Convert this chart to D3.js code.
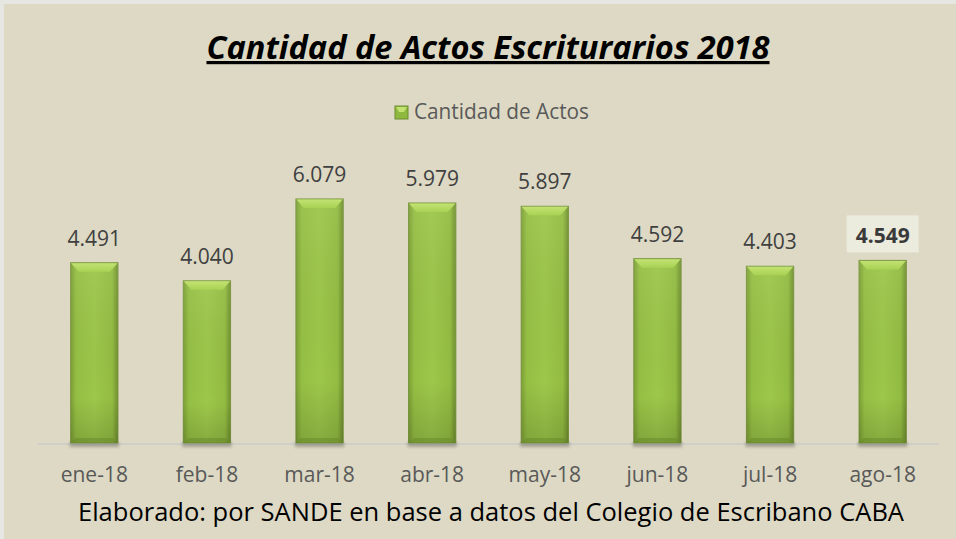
<!DOCTYPE html>
<html>
<head>
<meta charset="utf-8">
<script src="https://cdn.jsdelivr.net/npm/d3@7"></script>
<style>
  html, body { margin: 0; padding: 0; background: #ececec; }
  svg { display: block; }
</style>
</head>
<body>
<svg id="chart"></svg>
<script>
/* Data */
const months = ["ene-18", "feb-18", "mar-18", "abr-18", "may-18", "jun-18", "jul-18", "ago-18"];
const actos = [4491, 4040, 6079, 5979, 5897, 4592, 4403, 4549];
const valueLabels = ["4.491", "4.040", "6.079", "5.979", "5.897", "4.592", "4.403", "4.549"];
const highlightIndex = 7;

const rows = months.map((m, i) => ({ month: m, value: actos[i], label: valueLabels[i] }));

/* Dimensions */
const totalWidth = 956;
const totalHeight = 539;
const margin = { top: 162, right: 17, bottom: 96, left: 38 };
const chartWidth = totalWidth - margin.left - margin.right;
const chartHeight = totalHeight - margin.top - margin.bottom;

const svg = d3.select("#chart")
    .attr("width", totalWidth)
    .attr("height", totalHeight);

/* Gradients for the bevelled bars */
const defs = svg.append("defs");
const side = defs.append("linearGradient").attr("id", "barBody")
    .attr("x1", 0).attr("x2", 1).attr("y1", 0).attr("y2", 0);
side.append("stop").attr("offset", "0%").attr("stop-color", "#7c9f35");
side.append("stop").attr("offset", "12%").attr("stop-color", "#95bf44");
side.append("stop").attr("offset", "50%").attr("stop-color", "#9cc74a");
side.append("stop").attr("offset", "88%").attr("stop-color", "#93bc42");
side.append("stop").attr("offset", "100%").attr("stop-color", "#6f8f2e");

const shade = defs.append("linearGradient").attr("id", "barShade")
    .attr("x1", 0).attr("x2", 0).attr("y1", 0).attr("y2", 1);
shade.append("stop").attr("offset", "0%").attr("stop-color", "#ffffff").attr("stop-opacity", 0.06);
shade.append("stop").attr("offset", "75%").attr("stop-color", "#000000").attr("stop-opacity", 0.0);
shade.append("stop").attr("offset", "100%").attr("stop-color", "#000000").attr("stop-opacity", 0.14);

const bevel = defs.append("linearGradient").attr("id", "barBevel")
    .attr("x1", 0).attr("x2", 0).attr("y1", 0).attr("y2", 1);
bevel.append("stop").attr("offset", "0%").attr("stop-color", "#c2e272");
bevel.append("stop").attr("offset", "100%").attr("stop-color", "#a9d254");

const blur = defs.append("filter").attr("id", "soft")
    .attr("x", "-20%").attr("y", "-50%").attr("width", "140%").attr("height", "200%");
blur.append("feGaussianBlur").attr("stdDeviation", 1.5);

/* Background */
svg.append("rect")
    .attr("x", 0).attr("y", 0)
    .attr("width", totalWidth).attr("height", totalHeight)
    .attr("fill", "#e6e6e2");
svg.append("rect")
    .attr("x", 4).attr("y", 4)
    .attr("width", totalWidth - 4).attr("height", totalHeight - 4)
    .attr("fill", "#ddd9c4");

const mainGroup = svg.append("g")
    .attr("transform", `translate(${margin.left}, ${margin.top})`);

/* Scales */
const xScale = d3.scaleBand()
    .domain(months)
    .range([0, chartWidth])
    .paddingInner(0.58)
    .paddingOuter(0.29);

const yScale = d3.scaleLinear()
    .domain([0, 7000])
    .range([chartHeight, 0]);

/* Axis line */
mainGroup.append("line")
    .attr("x1", 0).attr("x2", chartWidth)
    .attr("y1", chartHeight + 1).attr("y2", chartHeight + 1)
    .attr("stroke", "#cfcfca")
    .attr("stroke-width", 2);

/* Bars */
const bw = xScale.bandwidth();
const bevelH = 9;
const bevelW = 8;

const bars = mainGroup.selectAll(".bar")
    .data(rows)
    .join("g")
      .attr("class", "bar");

bars.append("rect")
    .attr("x", d => xScale(d.month) - 1)
    .attr("y", chartHeight - 1)
    .attr("width", bw + 2)
    .attr("height", 5)
    .attr("fill", "#000")
    .attr("opacity", 0.25)
    .attr("filter", "url(#soft)");

bars.append("rect")
    .attr("x", d => xScale(d.month))
    .attr("y", d => yScale(d.value))
    .attr("width", bw)
    .attr("height", d => chartHeight - yScale(d.value))
    .attr("fill", "url(#barBody)")
    .attr("stroke", "#7b9640")
    .attr("stroke-width", 1);

bars.append("rect")
    .attr("x", d => xScale(d.month))
    .attr("y", d => yScale(d.value))
    .attr("width", bw)
    .attr("height", d => chartHeight - yScale(d.value))
    .attr("fill", "url(#barShade)");

/* top bevel */
bars.append("polygon")
    .attr("points", d => {
        const x0 = xScale(d.month), y0 = yScale(d.value);
        return [[x0 + 0.5, y0 + 0.5], [x0 + bw - 0.5, y0 + 0.5],
                [x0 + bw - bevelW, y0 + bevelH], [x0 + bevelW, y0 + bevelH]].join(" ");
    })
    .attr("fill", "url(#barBevel)");

/* bottom bevel */
bars.append("polygon")
    .attr("points", d => {
        const x0 = xScale(d.month), y1 = chartHeight;
        return [[x0 + 0.5, y1 - 0.5], [x0 + bw - 0.5, y1 - 0.5],
                [x0 + bw - 5, y1 - 5], [x0 + 5, y1 - 5]].join(" ");
    })
    .attr("fill", "#6a8a2a")
    .attr("opacity", 0.55);

/* Value labels */
const hl = rows[highlightIndex];
const hx = xScale(hl.month) + bw / 2;
const hy = yScale(hl.value) - 17;
mainGroup.append("rect")
    .attr("x", hx - 36)
    .attr("y", hy - 28)
    .attr("width", 72)
    .attr("height", 37)
    .attr("fill", "#ebebde");

mainGroup.selectAll(".value-label")
    .data(rows)
    .join("text")
      .attr("class", "value-label")
      .attr("x", d => xScale(d.month) + bw / 2)
      .attr("y", d => yScale(d.value) - 17)
      .attr("text-anchor", "middle")
      .attr("font-family", "'Open Sans', sans-serif")
      .attr("font-size", 21)
      .attr("font-weight", (d, i) => i === highlightIndex ? 700 : 400)
      .attr("fill", (d, i) => i === highlightIndex ? "#3a3a3a" : "#404040")
      .text(d => d.label);

/* X axis labels */
mainGroup.selectAll(".month-label")
    .data(rows)
    .join("text")
      .attr("class", "month-label")
      .attr("x", d => xScale(d.month) + bw / 2)
      .attr("y", chartHeight + 39)
      .attr("text-anchor", "middle")
      .attr("font-family", "'Open Sans', sans-serif")
      .attr("font-size", 21)
      .attr("fill", "#595959")
      .text(d => d.month);

/* Title */
svg.append("text")
    .attr("x", 488)
    .attr("y", 59)
    .attr("text-anchor", "middle")
    .attr("font-family", "'Open Sans', sans-serif")
    .attr("font-size", 32)
    .attr("font-weight", 700)
    .attr("font-style", "italic")
    .attr("text-decoration", "underline")
    .attr("textLength", 563)
    .attr("lengthAdjust", "spacingAndGlyphs")
    .attr("fill", "#000")
    .text("Cantidad de Actos Escriturarios 2018");

/* Legend */
const legend = svg.append("g").attr("transform", "translate(395, 106)");
legend.append("rect")
    .attr("x", 0).attr("y", 0).attr("width", 13).attr("height", 13)
    .attr("fill", "#8fb83f").attr("stroke", "#6e8c30");
legend.append("polygon")
    .attr("points", "1,1 12,1 9,6 4,6")
    .attr("fill", "#c2e272");
legend.append("text")
    .attr("x", 19).attr("y", 13)
    .attr("font-family", "'Open Sans', sans-serif")
    .attr("font-size", 21)
    .attr("textLength", 175)
    .attr("lengthAdjust", "spacingAndGlyphs")
    .attr("fill", "#595959")
    .text("Cantidad de Actos");

/* Source footer */
svg.append("text")
    .attr("x", 491)
    .attr("y", 521)
    .attr("text-anchor", "middle")
    .attr("font-family", "'Open Sans', sans-serif")
    .attr("font-size", 26)
    .attr("textLength", 826)
    .attr("lengthAdjust", "spacingAndGlyphs")
    .attr("fill", "#000")
    .text("Elaborado: por SANDE en base a datos del Colegio de Escribano CABA");
</script>
</body>
</html>
